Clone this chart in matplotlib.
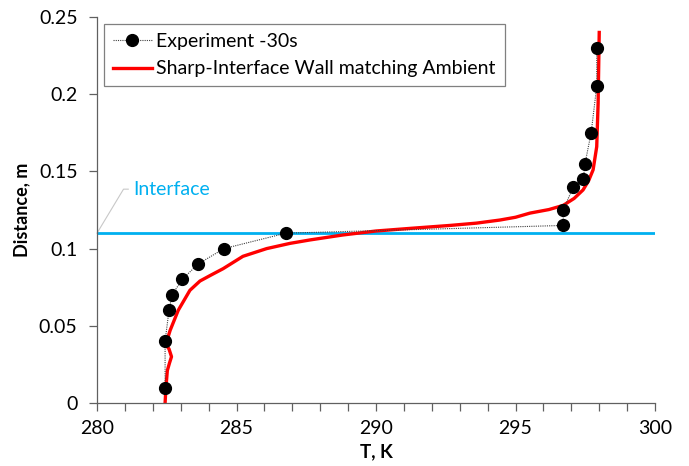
import matplotlib
matplotlib.use("Agg")
import matplotlib.pyplot as plt

plt.rcParams['font.family'] = ['Lato', 'DejaVu Sans']

# Experiment -30s
exp_T = [282.44, 282.44, 282.58, 282.69, 283.05, 283.62, 284.55, 286.77,
         296.71, 296.71, 297.07, 297.43, 297.49, 297.71, 297.91, 297.91]
exp_y = [0.010, 0.040, 0.060, 0.070, 0.080, 0.090, 0.100, 0.110,
         0.115, 0.125, 0.140, 0.145, 0.155, 0.175, 0.205, 0.230]

# Sharp-Interface Wall matching Ambient
sim_T = [282.44, 282.47, 282.52, 282.60, 282.67, 282.58, 282.50, 282.50,
         282.62, 282.91, 283.33, 283.69, 284.10, 284.52, 285.23, 286.08, 286.92,
         287.63, 288.80, 290.00, 291.30, 292.65, 293.60, 294.44, 295.00, 295.52,
         296.20, 296.71, 297.10, 297.42, 297.62, 297.78, 297.91, 297.96, 298.00]
sim_y = [0.000, 0.010, 0.021, 0.026, 0.030, 0.035, 0.037, 0.040,
         0.047, 0.060, 0.073, 0.079, 0.083, 0.087, 0.095, 0.100, 0.1034,
         0.1056, 0.1088, 0.1114, 0.1132, 0.115, 0.1165, 0.1185, 0.1203, 0.123,
         0.1253, 0.128, 0.1325, 0.138, 0.144, 0.151, 0.166, 0.194, 0.240]

interface_y = 0.11

fig = plt.figure(figsize=(6.89, 4.66), dpi=100)
ax = fig.add_axes([0.1408, 0.1352, 0.8099, 0.8283])

ax.axhline(interface_y, color='#00B0F0', lw=2.0, zorder=1)
ax.plot(exp_T, exp_y, color='#404040', lw=0.8, ls=(0, (1, 1)),
        marker='o', ms=8.5, mfc='black', mec='black',
        label='Experiment -30s', zorder=3)
ax.plot(sim_T, sim_y, color='#FF0000', lw=2.4, label='Sharp-Interface Wall matching Ambient',
        zorder=2)

# Interface leader + label
ax.plot([280.0, 280.95, 281.12], [interface_y, 0.1385, 0.1385], color='#C8C8C8',
        lw=0.8, clip_on=False, zorder=1)
ax.text(281.3, 0.1385, 'Interface', color='#00B0F0', fontsize=14, va='center', ha='left')

ax.set_xlim(280, 300)
ax.set_ylim(0, 0.25)
ax.set_xticks([280, 285, 290, 295, 300])
ax.set_xticks(range(280, 301), minor=True)
ax.set_yticks([0, 0.05, 0.1, 0.15, 0.2, 0.25])
ax.set_yticklabels(['0', '0.05', '0.1', '0.15', '0.2', '0.25'])
ax.set_xticklabels(['280', '285', '290', '295', '300'])

for side in ['top', 'right']:
    ax.spines[side].set_visible(False)
for side in ['left', 'bottom']:
    ax.spines[side].set_color('#606060')
    ax.spines[side].set_linewidth(0.9)
ax.tick_params(which='both', direction='out', length=6, color='#606060',
               width=0.9, labelsize=14)
ax.tick_params(axis='x', which='major', pad=6)
ax.tick_params(axis='y', pad=8)

ax.set_xlabel('T, K', fontsize=13.5, fontweight='bold', labelpad=5)
ax.set_ylabel('Distance, m', fontsize=13, fontweight='bold', labelpad=6)

leg = ax.legend(loc='upper left', bbox_to_anchor=(0.0125, 0.982), borderaxespad=0,
                fancybox=False, edgecolor='#606060', fontsize=14,
                handlelength=2.0, handletextpad=0.25, labelspacing=0.55,
                borderpad=0.45)
leg.get_frame().set_linewidth(0.9)

fig.savefig('out.png', dpi=100)
